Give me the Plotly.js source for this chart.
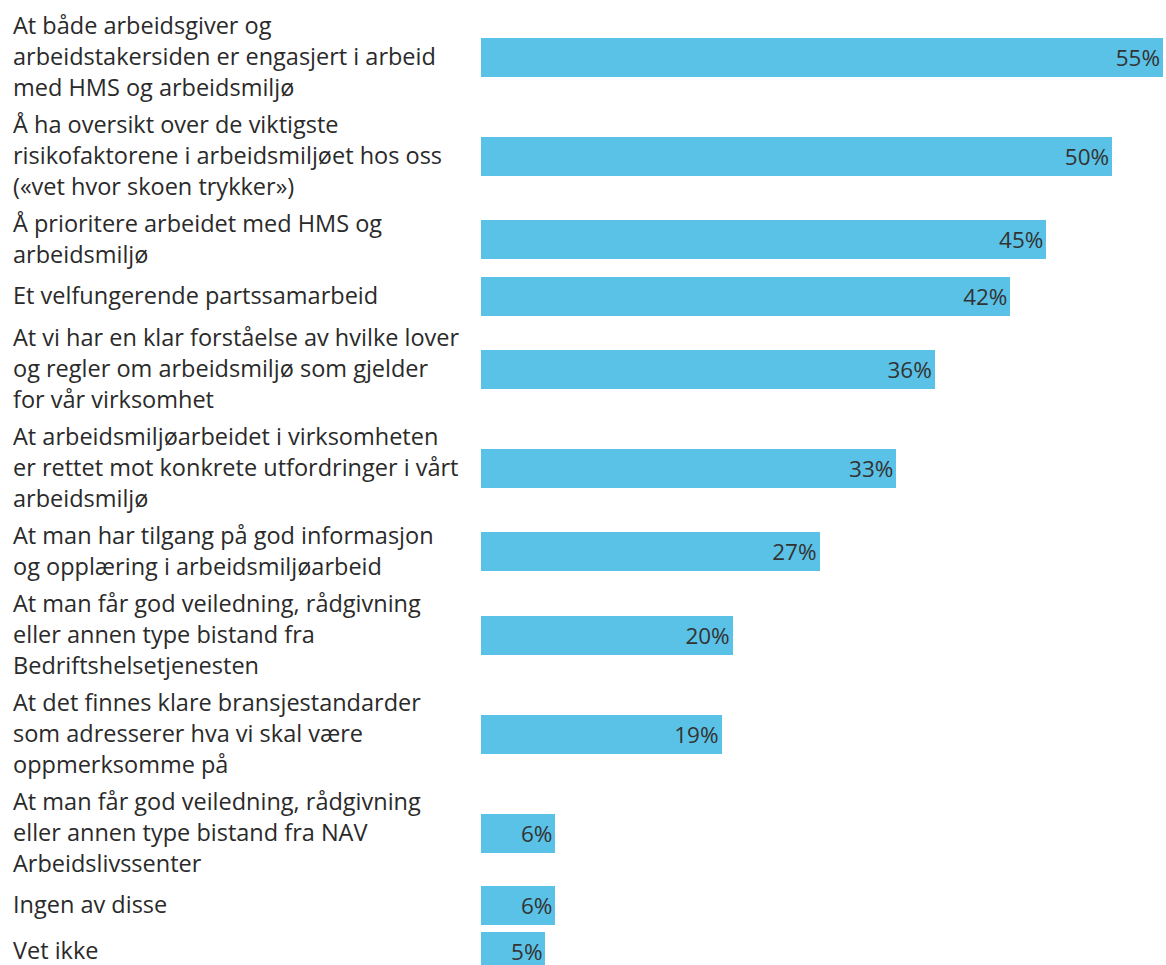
<!DOCTYPE html>
<html>
<head>
<meta charset="utf-8">
<script src="https://cdn.plot.ly/plotly-3.0.1.min.js"></script>
<style>
  html, body { margin: 0; padding: 0; background: #ffffff; }
  #chart { width: 1166px; height: 965px; }
</style>
</head>
<body>
<div id="chart"></div>
<script>
// ---- Data ----
const categories = [
  "At både arbeidsgiver og<br>arbeidstakersiden er engasjert i arbeid<br>med HMS og arbeidsmiljø",
  "Å ha oversikt over de viktigste<br>risikofaktorene i arbeidsmiljøet hos oss<br>(«vet hvor skoen trykker»)",
  "Å prioritere arbeidet med HMS og<br>arbeidsmiljø",
  "Et velfungerende partssamarbeid",
  "At vi har en klar forståelse av hvilke lover<br>og regler om arbeidsmiljø som gjelder<br>for vår virksomhet",
  "At arbeidsmiljøarbeidet i virksomheten<br>er rettet mot konkrete utfordringer i vårt<br>arbeidsmiljø",
  "At man har tilgang på god informasjon<br>og opplæring i arbeidsmiljøarbeid",
  "At man får god veiledning, rådgivning<br>eller annen type bistand fra<br>Bedriftshelsetjenesten",
  "At det finnes klare bransjestandarder<br>som adresserer hva vi skal være<br>oppmerksomme på",
  "At man får god veiledning, rådgivning<br>eller annen type bistand fra NAV<br>Arbeidslivssenter",
  "Ingen av disse",
  "Vet ikke"
];
const values = [55.0, 50.9, 45.6, 42.7, 36.6, 33.5, 27.3, 20.3, 19.4, 6.0, 6.0, 5.2];
const valueLabels = ["55%", "50%", "45%", "42%", "36%", "33%", "27%", "20%", "19%", "6%", "6%", "5%"];

// ---- Layout helpers (row heights follow the number of label lines) ----
const W = 1166, H = 965;
const LEFT = 481;
const PX_PER_PCT = 12.4;
const LINE_H = 31, GAP = 6, MIN_ROW = 40, TOP_PAD = 10.5;
const FONT = "'Open Sans', Lato, sans-serif";

const lines = categories.map(c => c.split("<br>"));
const rowH = lines.map(l => Math.max(l.length * LINE_H, MIN_ROW));
const centers = [];
let acc = TOP_PAD;
rowH.forEach((h, i) => {
  centers.push(acc + h / 2);
  acc += h + GAP;
});

const trace = {
  type: "bar",
  orientation: "h",
  x: values,
  y: centers,
  width: 39,
  marker: { color: "#5bc2e7", line: { width: 0 } },
  text: valueLabels,
  textposition: "inside",
  insidetextanchor: "end",
  cliponaxis: false,
  textfont: { family: FONT, size: 22.5, color: "#333333" },
  hoverinfo: "skip"
};

const annotations = [];
lines.forEach((ls, i) => {
  ls.forEach((t, j) => {
    annotations.push({
      xref: "paper", yref: "y",
      x: (11 - LEFT) / (W - LEFT),
      y: centers[i] + (j - (ls.length - 1) / 2) * LINE_H - 1.5,
      xanchor: "left", yanchor: "middle",
      text: t, showarrow: false, align: "left",
      font: { family: FONT, size: 23.5, color: "#2a2a2a" }
    });
  });
});

const layout = {
  width: W, height: H,
  margin: { l: LEFT, r: 0, t: 0, b: 0, pad: 0 },
  paper_bgcolor: "#ffffff",
  plot_bgcolor: "#ffffff",
  showlegend: false,
  xaxis: { range: [0, (W - LEFT) / PX_PER_PCT], visible: false, fixedrange: true },
  yaxis: { range: [H, 0], visible: false, fixedrange: true },
  annotations: annotations,
  bargap: 0
};

Plotly.newPlot("chart", [trace], layout, { displayModeBar: false, staticPlot: true });
</script>
</body>
</html>
